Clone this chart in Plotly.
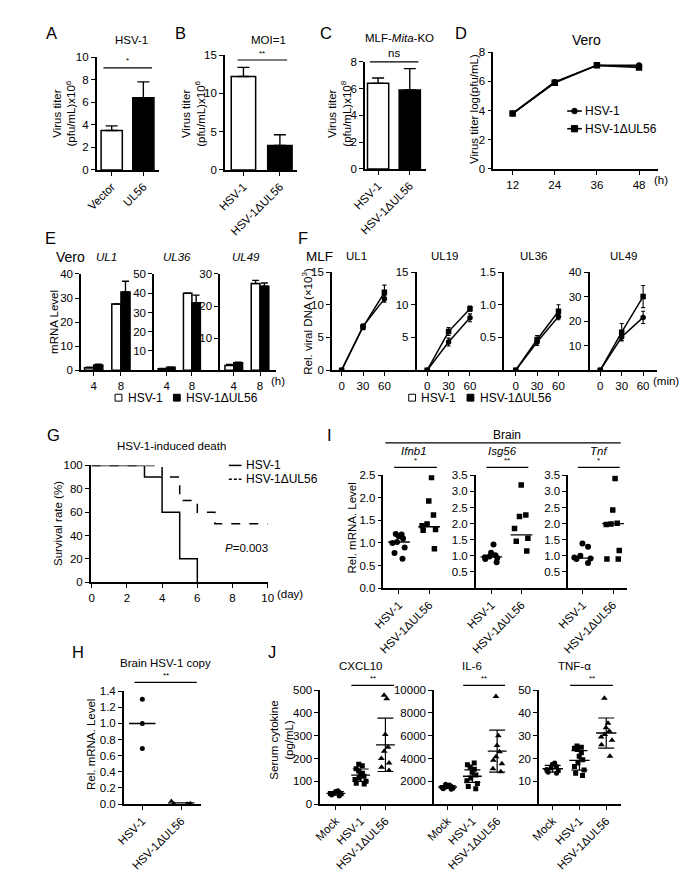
import plotly.graph_objects as go

W, H = 686, 872
FONT = "Arial, 'Liberation Sans', sans-serif"
LW = 1.5
TS = 11.5  # general text size

# ---------------- data ----------------
# A
a_labels = ["Vector", "UL56"]
a_titer = [3.5, 6.4]
a_err = [0.4, 1.4]
# B
b_labels = ["HSV-1", "HSV-1ΔUL56"]
b_titer = [12.2, 3.2]
b_err = [1.2, 1.4]
# C
c_labels = ["HSV-1", "HSV-1ΔUL56"]
c_titer = [6.4, 5.9]
c_err = [0.4, 1.6]
# D
d_hours = [12, 24, 36, 48]
d_wt = [3.8, 5.95, 7.1, 7.1]
d_mut = [3.8, 5.9, 7.1, 6.95]
# E  (mRNA level, Vero)
e_times = ["4", "8"]
e_ul1_wt = [1.0, 27.5]
e_ul1_wt_err = [0.2, 0.0]
e_ul1_mut = [2.2, 32.5]
e_ul1_mut_err = [0.3, 4.5]
e_ul36_wt = [0.8, 40.0]
e_ul36_wt_err = [0.1, 0.0]
e_ul36_mut = [1.5, 35.0]
e_ul36_mut_err = [0.1, 4.0]
e_ul49_wt = [1.5, 27.0]
e_ul49_wt_err = [0.3, 1.0]
e_ul49_mut = [2.3, 26.2]
e_ul49_mut_err = [0.2, 1.0]
# F  (relative viral DNA, MLF)
f_minutes = [0, 30, 60]
f_ul1_wt = [0, 6.7, 10.9]
f_ul1_wt_err = [0, 0.3, 0.5]
f_ul1_mut = [0, 6.6, 11.9]
f_ul1_mut_err = [0, 0.4, 1.1]
f_ul19_wt = [0, 4.3, 8.0]
f_ul19_wt_err = [0, 0.6, 0.6]
f_ul19_mut = [0, 5.9, 9.4]
f_ul19_mut_err = [0, 0.6, 0.4]
f_ul36_wt = [0, 0.43, 0.82]
f_ul36_wt_err = [0, 0.05, 0.05]
f_ul36_mut = [0, 0.47, 0.90]
f_ul36_mut_err = [0, 0.06, 0.10]
f_ul49_wt = [0, 13.5, 21.5]
f_ul49_wt_err = [0, 1.5, 2.5]
f_ul49_mut = [0, 15.5, 30.0]
f_ul49_mut_err = [0, 3.5, 4.5]
# G  (survival)
g_wt_day = [0, 3, 4, 5, 6]
g_wt_surv = [100, 90, 60, 20, 0]
g_mut_day = [0, 4, 5, 6, 7, 10]
g_mut_surv = [100, 90, 70, 60, 50, 50]
# I  (brain mRNA)
i_ifnb1_wt = [1.2, 1.19, 1.15, 1.1, 1.02, 1.0, 0.9, 0.78, 0.65]
i_ifnb1_mut = [2.45, 1.93, 1.62, 1.42, 1.38, 1.3, 1.28, 0.87]
i_isg56_wt = [1.35, 1.1, 1.02, 0.98, 0.96, 0.93, 0.9, 0.8]
i_isg56_mut = [3.2, 2.27, 2.22, 1.85, 1.55, 1.45, 1.15]
i_tnf_wt = [1.38, 1.28, 1.0, 0.95, 0.92, 0.9, 0.78]
i_tnf_mut = [3.4, 2.42, 2.01, 1.99, 1.97, 1.17, 0.9, 0.9]
i_medians = [[1.02, 1.36], [0.97, 1.65], [0.93, 2.0]]
# H  (brain HSV-1 copy)
h_wt = [1.3, 1.0, 0.69]
h_mut = [0.04, 0.012, 0.01, 0.006]
h_medians = [1.0, 0.015]
# J  (serum cytokine)
j_groups = ["Mock", "HSV-1", "HSV-1ΔUL56"]
j_cxcl10_mock = [58, 55, 52, 49, 46, 43, 40, 35]
j_cxcl10_wt = [175, 168, 155, 145, 135, 128, 122, 115, 108, 100, 92, 88]
j_cxcl10_mut = [478, 462, 305, 250, 232, 200, 180, 162, 148]
j_cxcl10_mean = [47, 127, 260]
j_cxcl10_sd = [8, 27, 117]
j_il6_mock = [1750, 1680, 1620, 1560, 1500, 1450, 1400, 1350, 1300]
j_il6_wt = [3600, 3450, 3250, 3050, 2800, 2550, 2300, 2050, 1800, 1550, 1350]
j_il6_mut = [9450, 6000, 5150, 4600, 4150, 3850, 3550, 3100, 2850]
j_il6_mean = [1500, 2450, 4650]
j_il6_sd = [120, 550, 1850]
j_tnf_mock = [18, 17.5, 16.5, 15.8, 15.2, 14.6, 14, 13.5]
j_tnf_wt = [25.5, 25, 24.5, 24, 22.5, 21, 19.5, 18, 16.5, 15, 13.5, 12.5]
j_tnf_mut = [46.5, 35.5, 33.5, 32, 30.5, 29.5, 28, 26, 21]
j_tnf_mean = [15.5, 19.2, 31.2]
j_tnf_sd = [1.5, 4.3, 6.6]

# ---------------- helpers ----------------
fig = go.Figure()
layout = {}
annotations = []
shapes = []


def axn(n):
    return ("x" if n == 1 else f"x{n}"), ("y" if n == 1 else f"y{n}")


def add_axes(n, px0, px1, py_top, py_bot, xr, yr, xtv=None, xtt=None, ytv=None,
             xangle=0, yfmt=None):
    xk = "xaxis" if n == 1 else f"xaxis{n}"
    yk = "yaxis" if n == 1 else f"yaxis{n}"
    xs, ys = axn(n)
    common = dict(showline=True, linecolor="black", linewidth=LW, ticks="outside",
                  ticklen=4, tickwidth=1.3, tickcolor="black", showgrid=False,
                  zeroline=False, tickfont=dict(size=11.5, color="black", family=FONT),
                  fixedrange=True)
    xa = dict(common, domain=[px0 / W, px1 / W], range=xr, anchor=ys,
              tickangle=xangle)
    if xtv is not None:
        xa["tickmode"] = "array"
        xa["tickvals"] = xtv
        if xtt is not None:
            xa["ticktext"] = xtt
    ya = dict(common, domain=[1 - py_bot / H, 1 - py_top / H], range=yr, anchor=xs)
    if ytv is not None:
        ya["tickmode"] = "array"
        ya["tickvals"] = ytv
    if yfmt:
        ya["tickformat"] = yfmt
    layout[xk] = xa
    layout[yk] = ya


def txt(x, y, s, size=TS, xanchor="center", yanchor="middle", angle=0):
    annotations.append(dict(x=x / W, y=1 - y / H, xref="paper", yref="paper",
                            text=s, showarrow=False, xanchor=xanchor,
                            yanchor=yanchor, textangle=angle,
                            font=dict(size=size, color="black", family=FONT)))


def hline(x0, x1, y, width=1.2, dash=None):
    line = dict(color="black", width=width)
    if dash:
        line["dash"] = dash
    shapes.append(dict(type="line", xref="paper", yref="paper", x0=x0 / W, x1=x1 / W,
                       y0=1 - y / H, y1=1 - y / H, line=line))


def rect(x0, x1, y0, y1, fill):
    shapes.append(dict(type="rect", xref="paper", yref="paper", x0=x0 / W, x1=x1 / W,
                       y0=1 - y1 / H, y1=1 - y0 / H, fillcolor=fill,
                       line=dict(color="black", width=1)))


def circ(cx, cy, r):
    shapes.append(dict(type="circle", xref="paper", yref="paper", x0=(cx - r) / W,
                       x1=(cx + r) / W, y0=1 - (cy + r) / H, y1=1 - (cy - r) / H,
                       fillcolor="black", line=dict(color="black", width=0.5)))


def sig(x0, x1, y, s):
    hline(x0, x1, y, 1.2)
    txt((x0 + x1) / 2, y - 0.5, s, size=8 if "*" in s else TS, yanchor="bottom")


# ---------------- A, B, C : bar charts ----------------
bar_specs = [
    (1, a_labels, a_titer, a_err),
    (2, b_labels, b_titer, b_err),
    (3, c_labels, c_titer, c_err),
]
for n, labels, vals, errs in bar_specs:
    xs, ys = axn(n)
    fig.add_bar(x=list(range(len(labels))), y=vals,
                marker=dict(color=["white", "black"], line=dict(color="black", width=LW)),
                error_y=dict(type="data", array=errs, arrayminus=[0] * len(errs),
                             symmetric=False, color="black", thickness=1.4, width=6),
                xaxis=xs, yaxis=ys)

add_axes(1, 86, 150, 52, 167, [-0.477, 1.49], [0, 10], [0, 1], a_labels,
         ytv=[0, 2, 4, 6, 8, 10], xangle=-45)
add_axes(2, 218, 292, 50, 167, [-0.507, 1.467], [0, 15], [0, 1], b_labels,
         ytv=[0, 5, 10, 15], xangle=-45)
add_axes(3, 362, 425, 57, 166, [-0.415, 1.52], [0, 8], [0, 1], c_labels,
         ytv=[0, 2, 4, 6, 8], xangle=-45)

txt(40, 28, "A", size=16.5)
txt(172, 28, "B", size=16.5)
txt(322, 28, "C", size=16.5)
txt(122, 35, "HSV-1")
txt(263, 35, "MOI=1")
txt(398, 33, "MLF-<i>Mita</i>-KO")
txt(53, 110, "Virus titer<br>(pfu/mL)x10<sup>6</sup>", angle=-90)
txt(186, 110, "Virus titer<br>(pfu/mL)x10<sup>6</sup>", angle=-90)
txt(336, 110, "Virus titer<br>(pfu/mL)x10<sup>8</sup>", angle=-90)
sig(93, 143, 63, "*")
sig(231, 282, 55, "**")
sig(367, 417, 57, "ns")

# ---------------- D : growth curve ----------------
fig.add_scatter(x=d_hours, y=d_wt, mode="lines+markers",
                line=dict(color="black", width=1.7),
                marker=dict(symbol="circle", size=6, color="black"), xaxis="x4", yaxis="y4")
fig.add_scatter(x=d_hours, y=d_mut, mode="lines+markers",
                line=dict(color="black", width=1.7),
                marker=dict(symbol="square", size=6.5, color="black"), xaxis="x4", yaxis="y4")
add_axes(4, 494, 663, 47, 166, [6.5, 53.3], [0, 8], d_hours, None,
         ytv=[0, 2, 4, 6, 8])
txt(461, 27, "D", size=16.5)
txt(590, 35, "Vero", size=14)
txt(474, 105, "Virus titer log(pfu/mL)", angle=-90)
txt(666, 177, "(h)")
# legend D
hline(570, 585, 107, 1.6)
circ(577.5, 107, 3)
txt(586, 107, "HSV-1", size=12, xanchor="left")
hline(570, 585, 125, 1.6)
rect(574.3, 580.7, 121.8, 128.2, "black")
txt(586, 125, "HSV-1ΔUL56", size=12, xanchor="left")

# ---------------- E : grouped bars ----------------
e_specs = [
    (5, "UL1", e_ul1_wt, e_ul1_wt_err, e_ul1_mut, e_ul1_mut_err, 70, 145,
     [-0.464, 2.214], [0, 40], [0, 10, 20, 30, 40]),
    (6, "UL36", e_ul36_wt, e_ul36_wt_err, e_ul36_mut, e_ul36_mut_err, 145, 213,
     [-0.5, 2.115], [0, 50], [10, 20, 30, 40, 50]),
    (7, "UL49", e_ul49_wt, e_ul49_wt_err, e_ul49_mut, e_ul49_mut_err, 213, 270,
     [-0.52, 1.59], [0, 30], [10, 20, 30]),
]
for n, gene, wt, wte, mut, mute, px0, px1, xr, yr, ytv in e_specs:
    xs, ys = axn(n)
    pos = list(range(len(e_times)))
    fig.add_bar(x=pos, y=wt, marker=dict(color="white", line=dict(color="black", width=LW)),
                error_y=dict(type="data", array=wte, arrayminus=[0] * len(wte),
                             symmetric=False, color="black", thickness=1.4, width=3.5),
                xaxis=xs, yaxis=ys)
    fig.add_bar(x=pos, y=mut, marker=dict(color="black", line=dict(color="black", width=LW)),
                error_y=dict(type="data", array=mute, arrayminus=[0] * len(mute),
                             symmetric=False, color="black", thickness=1.4, width=3.5),
                xaxis=xs, yaxis=ys)
    add_axes(n, px0, px1, 273, 371, xr, yr, pos, e_times, ytv=ytv)

txt(39, 236, "E", size=16.5)
txt(59, 256, "Vero", size=14)
txt(96, 256, "<i>UL1</i>")
txt(169, 256, "<i>UL36</i>")
txt(240, 256, "<i>UL49</i>")
txt(42, 322, "mRNA Level", angle=-90)
txt(273, 382, "(h)")
rect(105, 112, 395.5, 402.5, "white")
txt(116, 399, "HSV-1", size=12, xanchor="left")
rect(165, 172, 395.5, 402.5, "black")
txt(176, 399, "HSV-1ΔUL56", size=12, xanchor="left")

# ---------------- F : kinetics ----------------
f_specs = [
    (8, "UL1", f_ul1_wt, f_ul1_wt_err, f_ul1_mut, f_ul1_mut_err, 328, 415,
     [-13.6, 105], [0, 15], [0, 5, 10, 15]),
    (9, "UL19", f_ul19_wt, f_ul19_wt_err, f_ul19_mut, f_ul19_mut_err, 415, 505,
     [-15, 107.7], [0, 15], [5, 10, 15]),
    (10, "UL36", f_ul36_wt, f_ul36_wt_err, f_ul36_mut, f_ul36_mut_err, 505, 593,
     [-16.4, 103.6], [0, 1.5], [0.5, 1.0, 1.5]),
    (11, "UL49", f_ul49_wt, f_ul49_wt_err, f_ul49_mut, f_ul49_mut_err, 593, 662,
     [-15, 79], [0, 40], [10, 20, 30, 40]),
]
for n, gene, wt, wte, mut, mute, px0, px1, xr, yr, ytv in f_specs:
    xs, ys = axn(n)
    fig.add_scatter(x=f_minutes, y=wt, mode="lines+markers",
                    line=dict(color="black", width=1.5),
                    marker=dict(symbol="circle", size=5.5, color="black"),
                    error_y=dict(type="data", array=wte, color="black", thickness=1.1, width=2),
                    xaxis=xs, yaxis=ys)
    fig.add_scatter(x=f_minutes, y=mut, mode="lines+markers",
                    line=dict(color="black", width=1.5),
                    marker=dict(symbol="square", size=5.5, color="black"),
                    error_y=dict(type="data", array=mute, color="black", thickness=1.1, width=2),
                    xaxis=xs, yaxis=ys)
    add_axes(n, px0, px1, 271, 371, xr, yr, f_minutes, None, ytv=ytv,
             yfmt=".1f" if yr[1] < 2 else None)

txt(298, 236, "F", size=16.5)
txt(315, 255, "MLF", size=13.5)
txt(353, 255, "UL1")
txt(444, 255, "UL19")
txt(536, 255, "UL36")
txt(628, 255, "UL49")
txt(303, 321, "Rel. viral DNA (×10<sup>3</sup>)", angle=-90)
txt(672, 382, "(min)")
rect(407, 414, 395.5, 402.5, "white")
txt(418, 399, "HSV-1", size=12, xanchor="left")
rect(467, 474, 395.5, 402.5, "black")
txt(478, 399, "HSV-1ΔUL56", size=12, xanchor="left")

# ---------------- G : survival ----------------
fig.add_scatter(x=g_mut_day, y=g_mut_surv, mode="lines", line_shape="hv",
                line=dict(color="black", width=1.5, dash="dash"), xaxis="x12", yaxis="y12")
fig.add_scatter(x=g_wt_day, y=g_wt_surv, mode="lines", line_shape="hv",
                line=dict(color="black", width=1.5), xaxis="x12", yaxis="y12")
add_axes(12, 80, 262, 468, 587, [-0.05, 10], [0, 100], [0, 2, 4, 6, 8, 10], None,
         ytv=[0, 20, 40, 60, 80, 100])
txt(42, 437, "G", size=16.5)
txt(163, 448, "HSV-1-induced death")
txt(47, 527, "Survival rate (%)", angle=-90)
txt(285, 599, "(day)")
txt(240, 552, "<i>P</i>=0.003")
hline(222, 235, 468, 1.5)
txt(238, 468, "HSV-1", size=12, xanchor="left")
hline(222, 235, 482, 1.5, dash="3px,2px")
txt(238, 482, "HSV-1ΔUL56", size=12, xanchor="left")

# ---------------- I : brain mRNA scatter ----------------
i_labels = ["HSV-1", "HSV-1ΔUL56"]
i_specs = [
    (13, "<i>Ifnb1</i>", i_ifnb1_wt, i_ifnb1_mut, i_medians[0], 381, 476,
     [-0.516, 2.55], [0, 2.5], [0, 0.5, 1.0, 1.5, 2.0, 2.5]),
    (14, "<i>Isg56</i>", i_isg56_wt, i_isg56_mut, i_medians[1], 476, 571,
     [-0.516, 2.55], [0, 3.5], [0.5, 1.0, 1.5, 2.0, 2.5, 3.0, 3.5]),
    (15, "<i>Tnf</i>", i_tnf_wt, i_tnf_mut, i_medians[2], 571, 632,
     [-0.484, 1.48], [0, 3.5], [0.5, 1.0, 1.5, 2.0, 2.5, 3.0, 3.5]),
]
for n, title, wt, mut, med, px0, px1, xr, yr, ytv in i_specs:
    xs, ys = axn(n)
    for k, (vals, sym, sz) in enumerate([(wt, "circle", 6), (mut, "square", 5.5)]):
        fig.add_box(y=vals, x0=k, width=0.75, boxpoints="all", jitter=0.9, pointpos=0,
                    fillcolor="rgba(0,0,0,0)", line=dict(color="rgba(0,0,0,0)", width=0),
                    whiskerwidth=0, marker=dict(symbol=sym, size=sz, color="black"),
                    xaxis=xs, yaxis=ys)
        fig.add_scatter(x=[k - 0.36, k + 0.36], y=[med[k], med[k]], mode="lines",
                        line=dict(color="black", width=1.4), xaxis=xs, yaxis=ys)
    add_axes(n, px0, px1, 478, 593, xr, yr, [0, 1], i_labels, ytv=ytv, xangle=-45,
             yfmt=".1f")

txt(326, 437, "I", size=16.5)
txt(508, 437, "Brain", size=12)
hline(383, 625, 445, 1.2)
txt(412, 453, "<i>Ifnb1</i>")
txt(503, 453, "<i>Isg56</i>")
txt(603, 453, "<i>Tnf</i>")
sig(392, 436, 470, "*")
sig(487, 530, 470, "**")
sig(581, 624, 470, "*")
txt(349, 532, "Rel. mRNA. Level", angle=-90)

# ---------------- H : brain copy ----------------
h_labels = ["HSV-1", "HSV-1ΔUL56"]
fig.add_scatter(x=[0] * len(h_wt), y=h_wt, mode="markers",
                marker=dict(symbol="circle", size=5, color="black"), xaxis="x16", yaxis="y16")
fig.add_box(y=h_mut, x0=1, width=0.6, boxpoints="all", jitter=1.0, pointpos=0,
            fillcolor="rgba(0,0,0,0)", line=dict(color="rgba(0,0,0,0)", width=0),
            whiskerwidth=0, marker=dict(symbol="triangle-up", size=4.5, color="black"),
            xaxis="x16", yaxis="y16")
for k in range(2):
    fig.add_scatter(x=[k - 0.34, k + 0.34], y=[h_medians[k], h_medians[k]], mode="lines",
                    line=dict(color="black", width=1.4), xaxis="x16", yaxis="y16")
add_axes(16, 114, 193, 698, 813, [-0.475, 1.5], [0, 1.4], [0, 1], h_labels,
         ytv=[0, 0.2, 0.4, 0.6, 0.8, 1.0, 1.2, 1.4], xangle=-45, yfmt=".1f")
txt(67, 658, "H", size=16.5)
txt(157, 669, "Brain HSV-1 copy")
sig(125, 189, 689, "**")
txt(80, 752, "Rel. mRNA. Level", angle=-90)

# ---------------- J : serum cytokine ----------------
j_specs = [
    (17, "CXCL10", [j_cxcl10_mock, j_cxcl10_wt, j_cxcl10_mut], j_cxcl10_mean, j_cxcl10_sd,
     316, 433, [-0.63, 3.96], [0, 500], [0, 100, 200, 300, 400, 500]),
    (18, "IL-6", [j_il6_mock, j_il6_wt, j_il6_mut], j_il6_mean, j_il6_sd,
     433, 541, [-0.55, 3.69], [0, 10000], [2000, 4000, 6000, 8000, 10000]),
    (19, "TNF-α", [j_tnf_mock, j_tnf_wt, j_tnf_mut], j_tnf_mean, j_tnf_sd,
     541, 625, [-0.51, 2.54], [0, 50], [10, 20, 30, 40, 50]),
]
j_symbols = [("circle", 5), ("square", 5), ("triangle-up", 6)]
for n, title, groups, means, sds, px0, px1, xr, yr, ytv in j_specs:
    xs, ys = axn(n)
    for k, vals in enumerate(groups):
        sym, sz = j_symbols[k]
        fig.add_box(y=vals, x0=k, width=0.62, boxpoints="all", jitter=0.9, pointpos=0,
                    fillcolor="rgba(0,0,0,0)", line=dict(color="rgba(0,0,0,0)", width=0),
                    whiskerwidth=0, marker=dict(symbol=sym, size=sz, color="black"),
                    xaxis=xs, yaxis=ys)
        fig.add_scatter(x=[k - 0.38, k + 0.38], y=[means[k], means[k]], mode="lines",
                        line=dict(color="black", width=1.4), xaxis=xs, yaxis=ys)
    fig.add_scatter(x=list(range(len(means))), y=means, mode="markers",
                    marker=dict(size=1, color="rgba(0,0,0,0)"),
                    error_y=dict(type="data", array=sds, color="black", thickness=1.2, width=8),
                    xaxis=xs, yaxis=ys)
    add_axes(n, px0, px1, 697, 813, xr, yr, [0, 1, 2], j_groups, ytv=ytv, xangle=-45,
             yfmt="d")

txt(266, 658, "J", size=16.5)
txt(357, 672, "CXCL10")
txt(472, 672, "IL-6")
txt(578, 672, "TNF-α")
sig(348, 392, 692, "**")
sig(463, 506, 692, "**")
sig(573, 617, 692, "**")
txt(276, 748, "Serum cytokine<br>(pg/mL)", angle=-90)

fig.update_layout(**layout)
fig.update_layout(width=W, height=H, margin=dict(l=0, r=0, t=0, b=0),
                  paper_bgcolor="white", plot_bgcolor="white", showlegend=False,
                  barmode="group", bargap=0.33, bargroupgap=0,
                  font=dict(family=FONT, size=TS, color="black"),
                  annotations=annotations, shapes=shapes)
fig.write_html("out.html", config={"displayModeBar": False},
               post_script="document.body.style.margin='0';"
                           "document.body.style.padding='0';"
                           "document.documentElement.style.overflow='hidden';")
